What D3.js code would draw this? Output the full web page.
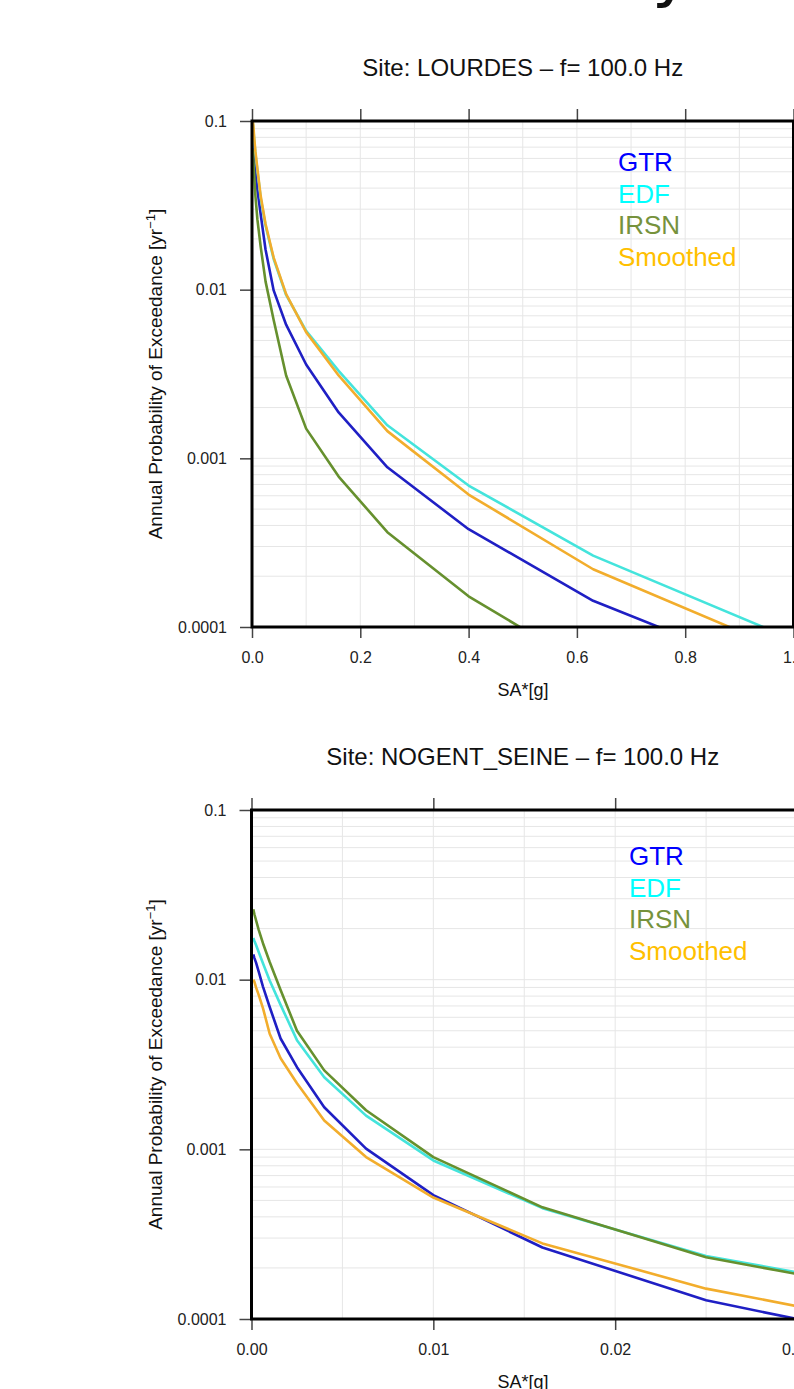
<!DOCTYPE html>
<html>
<head>
<meta charset="utf-8">
<script src="https://cdn.jsdelivr.net/npm/d3@7"></script>
<style>
    body { margin: 0; background: #ffffff; }
    svg { display: block; font-family: "Liberation Sans", Arial, sans-serif; }
</style>
</head>
<body>
<div id="chart"></div>
<script>
// series names, same order in both panels
const seriesNames = ["GTR", "EDF", "IRSN", "Smoothed"];

// Site LOURDES - spectral acceleration (g) and annual exceedance probabilities
const lourdesSA = [0.001, 0.0016, 0.0025, 0.004, 0.0063, 0.01, 0.016, 0.025, 0.04, 0.063, 0.1, 0.16, 0.25, 0.4, 0.63, 1.0];
const lourdesGTR = [0.075, 0.07, 0.066, 0.059, 0.05, 0.039, 0.028, 0.0173, 0.0099, 0.0062, 0.0036, 0.00187, 0.000885, 0.00038, 0.000143, 0.000048];
const lourdesEDF = [0.1, 0.096, 0.09, 0.077, 0.064, 0.051, 0.035, 0.024, 0.0152, 0.0093, 0.0057, 0.0033, 0.00157, 0.00069, 0.000265, 0.000084];
const lourdesIRSN = [0.068, 0.064, 0.058, 0.048, 0.036, 0.026, 0.018, 0.0112, 0.0066, 0.0031, 0.0015, 0.00078, 0.000365, 0.000152, 0.000055, 0.000015];
const lourdesSmoothed = [0.105, 0.1, 0.094, 0.08, 0.066, 0.052, 0.036, 0.0245, 0.0155, 0.0094, 0.0056, 0.0031, 0.00145, 0.00061, 0.00022, 0.000069];

// Site NOGENT_SEINE
const nogentSA = [0.0001, 0.00016, 0.00025, 0.0004, 0.00063, 0.001, 0.0016, 0.0025, 0.004, 0.0063, 0.01, 0.016, 0.025, 0.04];
const nogentGTR = [0.0141, 0.0134, 0.0126, 0.0111, 0.0091, 0.0069, 0.0045, 0.00305, 0.00177, 0.00101, 0.000537, 0.000264, 0.000129, 0.00006];
const nogentEDF = [0.0176, 0.0169, 0.016, 0.0145, 0.0125, 0.0099, 0.0071, 0.0044, 0.00266, 0.00158, 0.00086, 0.00045, 0.000235, 0.000121];
const nogentIRSN = [0.026, 0.0243, 0.0224, 0.0196, 0.0164, 0.0127, 0.0087, 0.005, 0.00292, 0.0017, 0.0009, 0.000455, 0.000231, 0.000117];
const nogentSmoothed = [0.01, 0.0097, 0.009, 0.0081, 0.0068, 0.0048, 0.00344, 0.00245, 0.00148, 0.0009, 0.00052, 0.000279, 0.000151, 0.000074];

// tick values / labels
const yTicks = [0.1, 0.01, 0.001, 0.0001];
const yTickLabels = ["0.1", "0.01", "0.001", "0.0001"];
const lourdesXTicks = [0, 0.2, 0.4, 0.6, 0.8, 1.0];
const nogentXTicks = [0, 0.01, 0.02, 0.03];

// colours
const lineColors = ["#1f1fc4", "#44e4dc", "#66902e", "#f2ad2c"];
const textColors = ["#0000ff", "#00ffff", "#76923c", "#ffc000"];

const W = 794, H = 1389;
const svg = d3.select("#chart").append("svg")
    .attr("width", W)
    .attr("height", H);

// page heading, mostly cut off at the top of the picture
svg.append("text")
    .attr("x", 692)
    .attr("y", -6)
    .attr("text-anchor", "end")
    .style("font-family", "'DejaVu Sans', sans-serif")
    .style("font-size", "68px")
    .style("fill", "#111")
    .text("Variability");

function drawPanel(p) {
    const x = d3.scaleLinear().domain(p.xDomain).range([p.left, p.right]);
    const y = d3.scaleLog().domain([0.0001, 0.1]).range([p.bottom, p.top]);
    const g = svg.append("g");

    // light grid
    const clipId = "clip-" + p.id;
    svg.append("clipPath").attr("id", clipId)
        .append("rect")
        .attr("x", p.left).attr("y", p.top)
        .attr("width", p.right - p.left).attr("height", p.bottom - p.top);

    let minors = [];
    [0.0001, 0.001, 0.01].forEach(dec => {
        for (let k = 1; k < 10; k++) minors.push(dec * k);
    });
    g.append("g").selectAll("line.hgrid")
        .data(minors)
        .join("line")
        .attr("x1", p.left).attr("x2", p.right)
        .attr("y1", d => y(d)).attr("y2", d => y(d))
        .style("stroke", "#e6e6e6")
        .style("stroke-width", 1);

    g.append("g").selectAll("line.vgrid")
        .data(d3.range(1, p.vGridCount).map(i => p.xDomain[0] + i * p.vGridStep))
        .join("line")
        .attr("x1", d => x(d)).attr("x2", d => x(d))
        .attr("y1", p.top).attr("y2", p.bottom)
        .style("stroke", "#e6e6e6")
        .style("stroke-width", 1);

    // curves
    const line = d3.line()
        .x(d => x(d[0]))
        .y(d => y(d[1]));
    const lines = g.append("g").attr("clip-path", `url(#${clipId})`);
    p.series.forEach((vals, i) => {
        lines.append("path")
            .datum(p.sa.map((s, j) => [s, vals[j]]))
            .attr("d", line)
            .style("fill", "none")
            .style("stroke", lineColors[i])
            .style("stroke-width", 2.6)
            .style("stroke-linejoin", "round");
    });

    // axes
    const fmt = d3.format(p.xFormat);
    const bottomAxis = d3.axisBottom(x).tickValues(p.xTicks).tickFormat(fmt).tickSize(11).tickPadding(14);
    const topAxis = d3.axisTop(x).tickValues(p.xTicks).tickFormat("").tickSize(12);
    const leftAxis = d3.axisLeft(y).tickValues(yTicks).tickFormat((d, i) => yTickLabels[i]).tickSize(12).tickPadding(13);

    const ax = [
        g.append("g").attr("transform", `translate(0,${p.bottom})`).call(bottomAxis),
        g.append("g").attr("transform", `translate(0,${p.top})`).call(topAxis),
        g.append("g").attr("transform", `translate(${p.left},0)`).call(leftAxis)
    ];
    ax.forEach(a => {
        a.select(".domain").remove();
        a.selectAll(".tick line").style("stroke", "#444").style("stroke-width", 1.5);
        a.selectAll(".tick text")
            .style("font-family", "'Liberation Sans', Arial, sans-serif")
            .style("font-size", "16px")
            .style("fill", "#222");
    });

    // frame
    g.append("rect")
        .attr("x", p.left).attr("y", p.top)
        .attr("width", p.right - p.left).attr("height", p.bottom - p.top)
        .style("fill", "none")
        .style("stroke", "#000")
        .style("stroke-width", 3);

    // title
    g.append("text")
        .attr("x", (p.left + p.right) / 2 + p.titleShift)
        .attr("y", p.top - 45)
        .attr("text-anchor", "middle")
        .style("font-size", "24px")
        .style("fill", "#111")
        .text(p.title);

    // axis titles
    g.append("text")
        .attr("x", 523)
        .attr("y", p.bottom + 69)
        .attr("text-anchor", "middle")
        .style("font-size", "18px")
        .style("fill", "#111")
        .text("SA*[g]");

    const yt = g.append("text")
        .attr("transform", `translate(162,${(p.top + p.bottom) / 2}) rotate(-90)`)
        .attr("text-anchor", "middle")
        .style("font-size", "19px")
        .style("fill", "#111");
    yt.append("tspan").text("Annual Probability of Exceedance [yr");
    yt.append("tspan").attr("dy", -7).style("font-size", "13px").text("−1");
    yt.append("tspan").attr("dy", 7).text("]");

    // legend
    g.append("g").selectAll("text")
        .data(seriesNames)
        .join("text")
        .attr("x", p.legendX)
        .attr("y", (d, i) => p.legendY + i * 31.7)
        .style("font-size", "26px")
        .style("fill", (d, i) => textColors[i])
        .text(d => d);
}

drawPanel({
    id: "lourdes",
    title: "Site: LOURDES \u2013 f= 100.0 Hz",
    titleShift: 0,
    left: 252, right: 793.5, top: 121, bottom: 627,
    xDomain: [0, 1.0], xTicks: lourdesXTicks, xFormat: ".1f",
    vGridStep: 0.1, vGridCount: 10,
    sa: lourdesSA,
    series: [lourdesGTR, lourdesEDF, lourdesIRSN, lourdesSmoothed],
    legendX: 618, legendY: 171
});

drawPanel({
    id: "nogent",
    title: "Site: NOGENT_SEINE \u2013 f= 100.0 Hz",
    titleShift: -1.5,
    left: 251.5, right: 797, top: 810, bottom: 1319,
    xDomain: [0, 0.03], xTicks: nogentXTicks, xFormat: ".2f",
    vGridStep: 0.005, vGridCount: 6,
    sa: nogentSA,
    series: [nogentGTR, nogentEDF, nogentIRSN, nogentSmoothed],
    legendX: 629, legendY: 865
});
</script>
</body>
</html>
